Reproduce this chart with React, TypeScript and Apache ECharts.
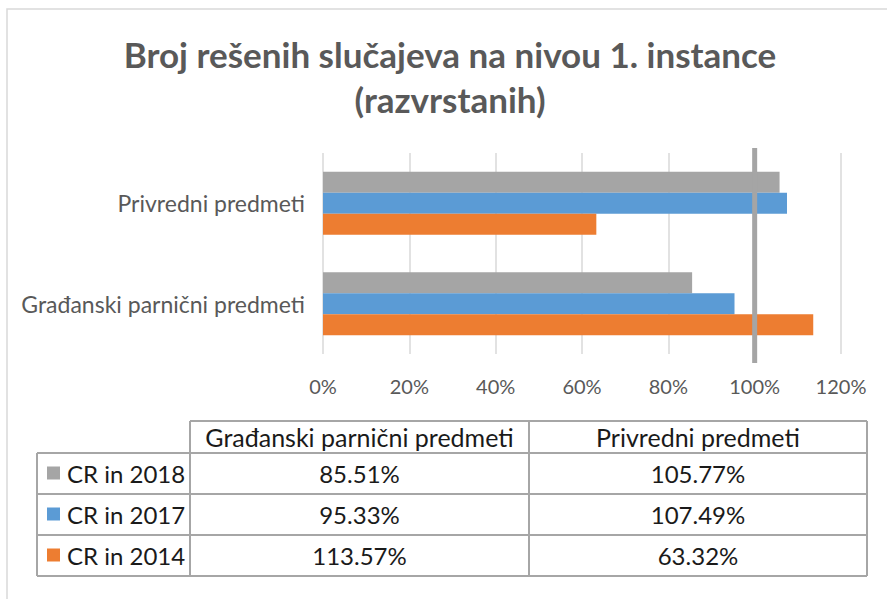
import React, { useEffect, useRef } from "react";
import * as echarts from "echarts";

// ---- data ----
const categories = ["Građanski parnični predmeti", "Privredni predmeti"];
const seriesNames = ["CR in 2018", "CR in 2017", "CR in 2014"];
const cr2018 = [85.51, 105.77];
const cr2017 = [95.33, 107.49];
const cr2014 = [113.57, 63.32];
const seriesColors = ["#A5A5A5", "#5B9BD5", "#ED7D31"];
const xMin = 0;
const xMax = 120;
const xInterval = 20;
const referenceValue = 100;
const titleText = "Broj rešenih slučajeva na nivou 1. instance\n(razvrstanih)";

const seriesValues = [cr2018, cr2017, cr2014];

const FONT = "Lato";
const TEXT = "#595959";

export default function App() {
  const ref = useRef<HTMLDivElement>(null);

  useEffect(() => {
    document.body.style.margin = "0";
    if (!ref.current) return;
    const chart = echarts.init(ref.current, undefined, { renderer: "svg" });

    // table layout
    const colX = [37, 190, 529, 867];
    const rowY = [421, 453, 494, 535, 576];
    const border = { stroke: "#A6A6A6", lineWidth: 2 };
    const graphics: any[] = [];
    // outer chart border
    graphics.push({
      type: "rect",
      shape: { x: 7, y: 9, width: 900, height: 620 },
      style: { fill: "none", stroke: "#D9D9D9", lineWidth: 1.5 },
      silent: true,
    });
    // horizontal lines
    graphics.push({ type: "line", shape: { x1: colX[1], y1: rowY[0], x2: colX[3], y2: rowY[0] }, style: border });
    for (let r = 1; r < rowY.length; r++) {
      graphics.push({ type: "line", shape: { x1: colX[0], y1: rowY[r], x2: colX[3], y2: rowY[r] }, style: border });
    }
    // vertical lines
    graphics.push({ type: "line", shape: { x1: colX[0], y1: rowY[1], x2: colX[0], y2: rowY[4] }, style: border });
    for (let c = 1; c < colX.length; c++) {
      graphics.push({ type: "line", shape: { x1: colX[c], y1: rowY[0], x2: colX[c], y2: rowY[4] }, style: border });
    }
    // header texts
    categories.forEach((cat, i) => {
      graphics.push({
        type: "text",
        style: {
          text: cat,
          x: (colX[i + 1] + colX[i + 2]) / 2,
          y: (rowY[0] + rowY[1]) / 2,
          align: "center",
          verticalAlign: "middle",
          fontSize: 25,
          fontFamily: FONT,
          fill: "#1a1a1a",
        },
      });
    });
    // rows
    seriesNames.forEach((name, r) => {
      const cy = (rowY[r + 1] + rowY[r + 2]) / 2;
      graphics.push({
        type: "rect",
        shape: { x: 47, y: cy - 7, width: 13, height: 13 },
        style: { fill: seriesColors[r] },
      });
      graphics.push({
        type: "text",
        style: {
          text: name,
          x: 67,
          y: cy,
          align: "left",
          verticalAlign: "middle",
          fontSize: 24,
          fontFamily: FONT,
          fill: "#1a1a1a",
        },
      });
      seriesValues[r].forEach((v, c) => {
        graphics.push({
          type: "text",
          style: {
            text: v.toFixed(2) + "%",
            x: (colX[c + 1] + colX[c + 2]) / 2,
            y: cy,
            align: "center",
            verticalAlign: "middle",
            fontSize: 24,
            fontFamily: FONT,
            fill: "#1a1a1a",
          },
        });
      });
    });

    const barSeries = seriesNames.map((name, i) => ({
      name,
      type: "bar",
      data: seriesValues[i],
      barWidth: 21,
      barGap: "0%",
      itemStyle: { color: seriesColors[i] },
      xAxisIndex: 0,
      yAxisIndex: 0,
    }));

    chart.setOption({
      animation: false,
      backgroundColor: "#ffffff",
      title: {
        text: titleText,
        left: 445,
        textAlign: "center",
        top: 26,
        textStyle: {
          fontFamily: FONT,
          fontSize: 35,
          fontWeight: "bold",
          color: TEXT,
          lineHeight: 45,
        },
      },
      grid: { left: 323, top: 153, width: 518, height: 201 },
      xAxis: {
        type: "value",
        min: xMin,
        max: xMax,
        interval: xInterval,
        axisLine: { show: false },
        axisTick: { show: false },
        splitLine: { lineStyle: { color: "#D9D9D9", width: 1.5 } },
        axisLabel: {
          formatter: "{value}%",
          fontFamily: FONT,
          fontSize: 20,
          color: TEXT,
          margin: 22,
        },
      },
      yAxis: [
        {
          type: "category",
          data: categories,
          axisLine: { show: false },
          axisTick: { show: false },
          axisLabel: {
            fontFamily: FONT,
            fontSize: 23,
            color: TEXT,
            margin: 18,
          },
        },
        { type: "value", min: 0, max: 1, show: false },
      ],
      series: [
        ...barSeries,
        {
          name: "ref",
          type: "line",
          xAxisIndex: 0,
          yAxisIndex: 1,
          data: [
            [referenceValue, -0.045],
            [referenceValue, 1.025],
          ],
          symbol: "none",
          clip: false,
          silent: true,
          z: 5,
          lineStyle: { color: "#A5A5A5", width: 5 },
        },
      ],
      graphic: graphics,
    });

    return () => chart.dispose();
  }, []);

  return <div ref={ref} style={{ width: 887, height: 599 }} />;
}
